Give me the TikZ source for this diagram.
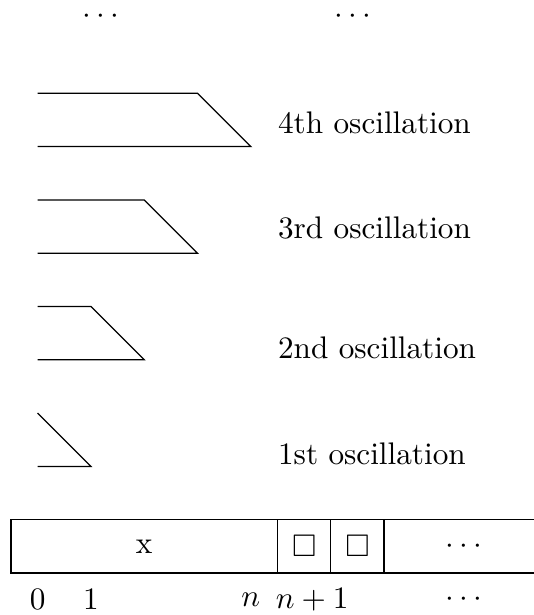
\documentclass[tikz,border=0pt]{standalone}
\usepackage{amssymb}
\begin{document}
\begin{tikzpicture}[x=0.6cm,y=0.6cm,
  osc/.style={draw, line width=0.4pt},
  lbl/.style={anchor=base west, inner sep=0pt},
  topdots/.style={anchor=base, inner sep=0pt, text height=3.2pt, text depth=0pt}]
\useasboundingbox (-0.206,-0.788) rectangle (9.812,10.75);
% top dots
\node[topdots] (dl) at (1.69,10.30) {$\cdots$};
\node[topdots] (dr) at (6.42,10.30) {$\cdots$};
% oscillations
\draw[osc] (0.5,3) -- (1.5,2) -- (0.5,2);
\draw[osc] (0.5,5) -- (1.5,5) -- (2.5,4) -- (0.5,4);
\draw[osc] (0.5,7) -- (2.5,7) -- (3.5,6) -- (0.5,6);
\draw[osc] (0.5,9) -- (3.5,9) -- (4.5,8) -- (0.5,8);
\node[lbl] (o1) at (5,2.03) {1st oscillation};
\node[lbl] (o2) at (5,4.03) {2nd oscillation};
\node[lbl] (o3) at (5,6.27) {3rd oscillation};
\node[lbl] (o4) at (5,8.25) {4th oscillation};
% tape
\draw (9.812,1) -- (0,1) -- (0,0) -- (9.812,0);
\draw (5,0) -- (5,1);
\draw (6,0) -- (6,1);
\draw (7,0) -- (7,1);
\node (cx) at (2.5,0.5) {x};
\node (c1) at (5.5,0.5) {$\square$};
\node (c2) at (6.5,0.5) {$\square$};
\node (c3) at (8.5,0.5) {$\cdots$};
% indices
\node (i0) at (0.5,-0.5) {$0$};
\node (i1) at (1.5,-0.5) {$1$};
\node (in) at (4.5,-0.5) {$n$};
\node (in1) at (5.65,-0.5) {$n+1$};
\node (id) at (8.5,-0.5) {$\cdots$};
\end{tikzpicture}
\end{document}
